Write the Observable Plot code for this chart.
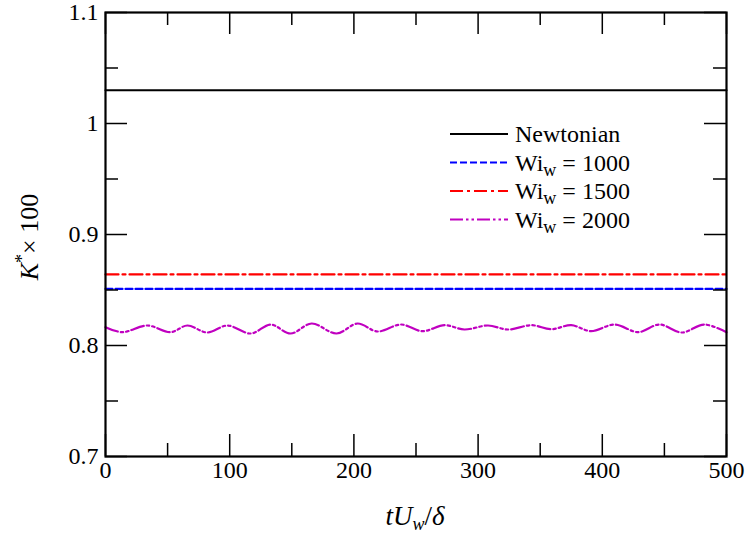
<!DOCTYPE html>
<html><head><meta charset="utf-8">
<script src="https://cdn.jsdelivr.net/npm/d3@7"></script>
<script src="https://cdn.jsdelivr.net/npm/@observablehq/plot@0.6"></script>
<style>body{margin:0;background:#fff}</style>
</head><body><div id="chart"></div>
<script>
// ---- data ----
const xTicks = [0, 100, 200, 300, 400, 500];
const xMinorTicks = [50, 150, 250, 350, 450];
const yTicks = [0.7, 0.8, 0.9, 1, 1.1];
const yMinorTicks = [0.75, 0.85, 0.95, 1.05];
const seriesNames = ["Newtonian", "1000", "1500", "2000"];

const newtonianT = [0, 500];
const newtonianK = [1.03, 1.03];
const wi1000T = [0, 500];
const wi1000K = [0.851, 0.851];
const wi1500T = [0, 500];
const wi1500K = [0.864, 0.864];
const wi2000T = [0, 13.5, 33.6, 52.4, 65.9, 82, 98.1, 117, 133, 149, 166, 186, 203, 219, 238, 255, 273, 289, 308, 324, 343, 359, 375, 391, 410, 429, 446, 464, 482, 500];
const wi2000K = [0.8165, 0.812, 0.818, 0.812, 0.818, 0.8117, 0.818, 0.8108, 0.8189, 0.8108, 0.8198, 0.8108, 0.8198, 0.8126, 0.8189, 0.8129, 0.8183, 0.8144, 0.818, 0.8144, 0.8183, 0.8147, 0.8183, 0.8129, 0.8189, 0.812, 0.8189, 0.8117, 0.8189, 0.812];

const toRows = (T, K) => T.map((t, i) => ({t, k: K[i]}));
const styles = [
  {stroke: "#000000", dash: null},
  {stroke: "#0000ff", dash: "7,3"},
  {stroke: "#ff0000", dash: "13,4,3,4"},
  {stroke: "#c000c0", dash: "13,3,2.5,3,2.5,3"}
];

const FONT = "Liberation Serif";
const W = 749, H = 535;
const mL = 105, mR = 23, mT = 12, mB = 79;
const frameW = W - mL - mR, frameH = H - mT - mB;
const MAJ = 22, MIN = 13;

const plot = Plot.plot({
  width: W, height: H,
  marginLeft: mL, marginRight: mR, marginTop: mT, marginBottom: mB,
  x: {domain: [0, 500], axis: null},
  y: {domain: [0.7, 1.1], axis: null},
  marks: [
    Plot.lineY(toRows(newtonianT, newtonianK), {x: "t", y: "k", stroke: styles[0].stroke, strokeWidth: 2}),
    Plot.lineY(toRows(wi1500T, wi1500K), {x: "t", y: "k", stroke: styles[2].stroke, strokeWidth: 2.2, strokeDasharray: styles[2].dash}),
    Plot.lineY(toRows(wi1000T, wi1000K), {x: "t", y: "k", stroke: styles[1].stroke, strokeWidth: 2.2, strokeDasharray: styles[1].dash}),
    Plot.lineY(toRows(wi2000T, wi2000K), {x: "t", y: "k", stroke: styles[3].stroke, strokeWidth: 2.2, strokeDasharray: styles[3].dash, curve: "catmull-rom"}),
    // inward ticks
    Plot.tickX(xTicks, {x: d => d, insetTop: frameH - MAJ, strokeWidth: 1.5}),
    Plot.tickX(xTicks, {x: d => d, insetBottom: frameH - MAJ, strokeWidth: 1.5}),
    Plot.tickX(xMinorTicks, {x: d => d, insetTop: frameH - MIN, strokeWidth: 1.5}),
    Plot.tickX(xMinorTicks, {x: d => d, insetBottom: frameH - MIN, strokeWidth: 1.5}),
    Plot.tickY(yTicks, {y: d => d, insetRight: frameW - MAJ, strokeWidth: 1.5}),
    Plot.tickY(yTicks, {y: d => d, insetLeft: frameW - MAJ, strokeWidth: 1.5}),
    Plot.tickY(yMinorTicks, {y: d => d, insetRight: frameW - MIN, strokeWidth: 1.5}),
    Plot.tickY(yMinorTicks, {y: d => d, insetLeft: frameW - MIN, strokeWidth: 1.5}),
    // tick labels
    Plot.text(xTicks, {x: d => d, frameAnchor: "bottom", text: d => String(d), dy: 4, lineAnchor: "top", fontSize: 24, fontFamily: FONT, fill: "#000"}),
    Plot.text(yTicks, {y: d => d, frameAnchor: "left", text: d => String(d), dx: -7, textAnchor: "end", fontSize: 24, fontFamily: FONT, fill: "#000"}),
    Plot.frame({stroke: "#000", strokeWidth: 2.2})
  ]
});
document.getElementById("chart").appendChild(plot);

const svg = d3.select(plot);
// axis titles
const xt = svg.append("text").attr("x", 415).attr("y", 525).attr("text-anchor", "middle")
  .attr("font-family", FONT).attr("font-size", 27).attr("fill", "#000");
xt.append("tspan").attr("font-style", "italic").text("tU");
xt.append("tspan").attr("font-style", "italic").attr("font-size", 18).attr("dy", 5).text("w");
xt.append("tspan").attr("dy", -5).text("/");
xt.append("tspan").attr("font-style", "italic").text("δ");

const yt = svg.append("text").attr("transform", "translate(38,237) rotate(-90)").attr("text-anchor", "middle")
  .attr("font-family", FONT).attr("font-size", 26).attr("fill", "#000");
yt.append("tspan").attr("font-style", "italic").text("K");
yt.append("tspan").attr("font-size", 18).attr("dy", -10).text("*");
yt.append("tspan").attr("dy", 10).text("× 100");

// legend
const lg = svg.append("g").attr("transform", "translate(450,134)");
seriesNames.forEach((name, i) => {
  const g = lg.append("g").attr("transform", `translate(0,${i * 28.5})`);
  g.append("line").attr("x1", 0).attr("x2", 58).attr("y1", 0).attr("y2", 0)
    .attr("stroke", styles[i].stroke).attr("stroke-width", 2.2)
    .attr("stroke-dasharray", styles[i].dash);
  const t = g.append("text").attr("x", 65).attr("y", 8).attr("text-anchor", "start")
    .attr("font-family", FONT).attr("font-size", 24).attr("fill", "#000");
  if (i === 0) t.text(name);
  else {
    t.append("tspan").text("Wi");
    t.append("tspan").attr("font-size", 18).attr("dy", 5).text("w");
    t.append("tspan").attr("dy", -5).text(" = " + name);
  }
});
</script>
</body></html>
